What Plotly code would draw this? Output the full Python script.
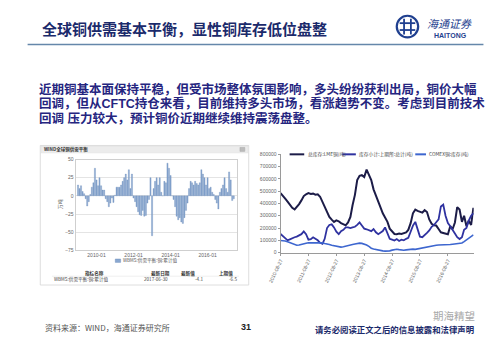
import plotly.graph_objects as go
import pandas as pd

W, H = 500, 346
FONT = "Noto Sans CJK SC"
MIXED = "Liberation Sans, Noto Sans CJK SC"


def px(x):
    return x / W


def py(y):
    return 1 - y / H


# ---------------- data ----------------
# Left chart: WBMS global copper supply/demand balance (10k t), monthly from 2009-01
balance_start = "2009-01-01"
balance = [
    15, 10, 14, 6, 3, -4, -14, -8, 2, 12, 18, 38,
    22, 14, 25, 14, 8, 8, -4, -8, -15, -10, -3, -9,
    1, 12, 12, 12, 15, 20, 25, 30, 22, 36, 10, 30,
    -3, -8, -15, -22, -26, -27, -20, -28, -27, -10, -5, 25,
    -55, 10, 20, 25, 15, 25, 5, 0, 20, 18, 45, 38,
    28, 0, -5, -15, -28, -33, -30, -36, -38, -30, -20, -10,
    10, 20, 18, 15, 20, 17, 15, 18, 36, 30, 25, 15,
    25, 10, 12, 5, 2, -5, -10, -18, 5, 10, 15, 25,
    10, 5, 33, 22, -6.5, -4.1,
]
balance_name = "WBMS:供需平衡:铜:累计值"
balance_ticks = ["2010-01", "2012-01", "2014-01", "2016-01"]
balance_yticks = [-75, -50, -25, 0, 25, 50]

# Right chart: copper inventories (t), monthly from 2010-08-27
stock_start = "2010-08-27"
stock_total = [
    485000, 465000, 440000, 415000, 385000, 365000, 352000, 370000, 395000, 425000,
    460000, 475000, 485000, 478000, 480000, 472000, 475000, 455000, 410000, 375000,
    330000, 290000, 268000, 250000, 262000, 255000, 240000, 228000, 222000, 245000,
    290000, 385000, 470000, 590000, 625000, 630000, 615000, 675000, 625000, 590000,
    515000, 470000, 415000, 370000, 320000, 285000, 250000, 195000, 170000, 152000,
    150000, 155000, 152000, 160000, 165000, 185000, 240000, 320000, 350000, 340000,
    330000, 325000, 345000, 330000, 270000, 235000, 222000, 220000, 192000, 165000,
    160000, 152000, 150000, 215000, 190000, 245000, 370000, 350000, 250000, 300000,
    215000, 260000, 225000, 365000,
]
stock_asia = [
    152000, 135000, 120000, 100000, 108000, 120000, 125000, 130000, 140000, 150000,
    172000, 150000, 105000, 110000, 125000, 115000, 100000, 80000, 72000, 112000,
    200000, 225000, 230000, 205000, 170000, 150000, 175000, 185000, 205000, 205000,
    200000, 205000, 210000, 225000, 245000, 220000, 195000, 190000, 180000, 175000,
    192000, 165000, 150000, 160000, 175000, 205000, 160000, 112000, 105000, 98000,
    110000, 95000, 105000, 100000, 112000, 120000, 170000, 220000, 250000, 185000,
    130000, 125000, 140000, 160000, 180000, 210000, 225000, 250000, 270000, 375000,
    390000, 300000, 240000, 215000, 180000, 155000, 125000, 110000, 125000, 185000,
    200000, 260000, 300000, 320000,
]
stock_comex = [
    99000, 98000, 95000, 88000, 80000, 72000, 66000, 60000, 62000, 68000,
    72000, 76000, 80000, 80000, 81000, 80000, 80000, 81000, 79000, 74000,
    72000, 66000, 60000, 55000, 52000, 47000, 45000, 48000, 54000, 58000,
    62000, 66000, 70000, 74000, 77000, 75000, 70000, 62000, 50000, 36000,
    30000, 25000, 20000, 17000, 14000, 12000, 11000, 14000, 20000, 26000,
    27000, 24000, 20000, 19000, 22000, 25000, 27000, 28000, 26000, 30000,
    36000, 38000, 42000, 50000, 54000, 56000, 58000, 60000, 62000, 62000,
    60000, 62000, 64000, 66000, 68000, 70000, 72000, 74000, 78000, 90000,
    105000, 118000, 130000, 145000,
]
stock_names = ["总库存:LME铜(吨)", "库存小计:上期所:总计(吨)", "COMEX铜:库存(吨)"]
stock_colors = ["#1c1c48", "#2f32a0", "#3d66cf"]
stock_ticks = ["2010-08-27", "2011-08-27", "2012-08-27", "2013-08-27",
               "2014-08-27", "2015-08-27", "2016-08-27"]

balance_dates = pd.date_range(balance_start, periods=len(balance), freq="MS")
stock_dates = pd.date_range(stock_start, periods=len(stock_total), freq=pd.DateOffset(months=1))

# ---------------- figure ----------------
fig = go.Figure()

fig.add_trace(go.Bar(
    x=balance_dates, y=balance, name=balance_name,
    marker=dict(color="#89a7d0", line=dict(color="#6587b8", width=0.3)),
    xaxis="x", yaxis="y",
))

for series, name, color, width in zip(
    [stock_total, stock_asia, stock_comex], stock_names, stock_colors, [2, 1.8, 1.6]
):
    fig.add_trace(go.Scatter(
        x=stock_dates, y=series, name=name, mode="lines",
        line=dict(color=color, width=width),
        xaxis="x2", yaxis="y2",
    ))

small = dict(size=5, color="#666", family="Arial")

fig.update_layout(
    width=W, height=H,
    margin=dict(l=0, r=0, t=0, b=0),
    paper_bgcolor="white", plot_bgcolor="white",
    showlegend=False,
    bargap=0.18,
    font=dict(family=FONT),
    xaxis=dict(
        domain=[px(64.3), px(230)], type="date",
        range=["2008-11-15", "2017-08-04"],
        tickvals=[t + "-01" for t in balance_ticks], ticktext=balance_ticks,
        tickfont=small, showgrid=False, showline=True, linecolor="#cfcfcf",
        mirror=True, ticks="", zeroline=False,
    ),
    yaxis=dict(
        domain=[py(251.7), py(159.3)], range=[-75, 50],
        tickvals=balance_yticks, tickfont=small,
        showgrid=True, gridcolor="#e4e4e4", gridwidth=0.6,
        showline=True, linecolor="#cfcfcf", mirror=True, zeroline=False, ticks="",
    ),
    xaxis2=dict(
        domain=[px(274.7), px(473)], type="date",
        range=["2010-08-27", "2017-07-31"],
        tickvals=stock_ticks, ticktext=stock_ticks, tickangle=-65,
        tickfont=small, showgrid=False, showline=True, linecolor="#9a9a9a",
        ticks="outside", ticklen=2, tickcolor="#9a9a9a", zeroline=False,
        anchor="y2",
    ),
    yaxis2=dict(
        domain=[py(254), py(154)], range=[0, 800000], dtick=100000,
        tickformat="d", tickfont=small, showgrid=False,
        showline=True, linecolor="#9a9a9a", ticks="outside", ticklen=2,
        tickcolor="#9a9a9a", zeroline=False, anchor="x2",
    ),
)

shapes = []
annotations = []


def ann(text, x, y, size, color, xanchor="left", family=FONT, angle=0, opacity=1, align="left"):
    annotations.append(dict(
        text=text, x=px(x), y=py(y), xref="paper", yref="paper",
        showarrow=False, xanchor=xanchor, yanchor="middle",
        font=dict(size=size, color=color, family=family), textangle=angle,
        opacity=opacity, align=align, borderpad=0,
    ))


def line(x0, y0, x1, y1, color, width):
    shapes.append(dict(type="line", xref="paper", yref="paper",
                       x0=px(x0), y0=py(y0), x1=px(x1), y1=py(y1),
                       line=dict(color=color, width=width)))


def rect(x0, y0, x1, y1, fill, lc, lw, layer="below"):
    shapes.append(dict(type="rect", xref="paper", yref="paper",
                       x0=px(x0), y0=py(y0), x1=px(x1), y1=py(y1),
                       fillcolor=fill, line=dict(color=lc, width=lw), layer=layer))


# slide header
ann("<b>全球铜供需基本平衡，显性铜库存低位盘整</b>", 29, 26, 15, "#1b2a6b")
line(15, 42.3, 483, 42.3, "#6587aa", 1.5)

# logo
shapes.append(dict(type="circle", xref="paper", yref="paper",
                   x0=px(394), y0=py(35), x1=px(416), y1=py(13),
                   line=dict(color="#1f3f8f", width=2.2)))
line(397, 20.5, 413, 20.5, "#1f3f8f", 1.8)
line(397, 27.5, 413, 27.5, "#1f3f8f", 1.8)
line(401.5, 16, 401.5, 32, "#1f3f8f", 1.8)
line(408.5, 16, 408.5, 32, "#1f3f8f", 1.8)
ann("<i>海通证券</i>", 424, 20.5, 11, "#1f3f8f")
ann("<b>HAITONG</b>", 449, 33, 7, "#1f3f8f", xanchor="center", family="Arial")

# paragraph
para_color = "#25257f"
ann("<b>近期铜基本面保持平稳，但受市场整体氛围影响，多头纷纷获利出局，铜价大幅</b>", 26, 88, 12.5, para_color, family=MIXED)
ann("<b>回调，但从CFTC持仓来看，目前维持多头市场，看涨趋势不变。考虑到目前技术</b>", 26, 102.7, 12.5, para_color, family=MIXED)
ann("<b>回调 压力较大，预计铜价近期继续维持震荡盘整。</b>", 26, 117.4, 12.5, para_color, family=MIXED)

# left panel (WIND window)
rect(28, 145, 242, 287, "white", "#d6d6d6", 0.8)
rect(28.5, 145.5, 241.5, 152.5, "#ececec", "#dcdcdc", 0.5)
ann("<b>WIND全球铜供需平衡</b>", 30.5, 148.8, 4.5, "#333")
rect(233, 147, 238, 151, "#bcbcbc", "#a8a8a8", 0.5)
ann("万吨", 49, 205, 5, "#666", xanchor="center", angle=-90)

# left legend
rect(105, 260.5, 110.5, 264, "#89a7d0", "#6587b8", 0.4, layer="above")
ann(balance_name, 111.5, 262.3, 4.6, "#555")

# left table
ann("<b>指标名称</b>", 83.3, 275, 4.6, "#333", xanchor="center")
ann("<b>最新日期</b>", 151.7, 275, 4.6, "#333", xanchor="center")
ann("<b>最新值</b>", 180, 275, 4.6, "#333", xanchor="center")
ann("<b>上期值</b>", 218.3, 275, 4.6, "#333", xanchor="center")
line(40, 278, 232, 278, "#dddddd", 0.5)
ann(balance_name, 41, 281.3, 4.6, "#444")
ann(balance_dates[-1].strftime("%Y-%m-") + "30", 146.7, 281.3, 4.6, "#444", xanchor="center")
ann(f"{balance[-1]}", 196, 281.3, 4.6, "#444", xanchor="right")
ann(f"{balance[-2]}", 231, 281.3, 4.6, "#444", xanchor="right")

# right legend
leg = [(284, 299, 302), (338, 352, 354.5), (413, 424, 426)]
for (x0, x1, xt), name, color in zip(leg, stock_names, stock_colors):
    line(x0, 154, x1, 154, color, 2)
    ann(name, xt, 154, 4.8, "#444")

# footer
ann("资料来源：WIND，海通证券研究所", 31.5, 330, 8, "#555")
ann("<b>31</b>", 239, 330, 9, "#222", xanchor="center", family="Arial")
ann("<b>请务必阅读正文之后的信息披露和法律声明</b>", 309, 332, 8.4, "#1b2a6b")
ann("期海精望", 453, 318.5, 10.5, "#9a9a9a", xanchor="center", opacity=0.85)

fig.update_layout(shapes=shapes, annotations=annotations)

fig.write_html("out.html")
